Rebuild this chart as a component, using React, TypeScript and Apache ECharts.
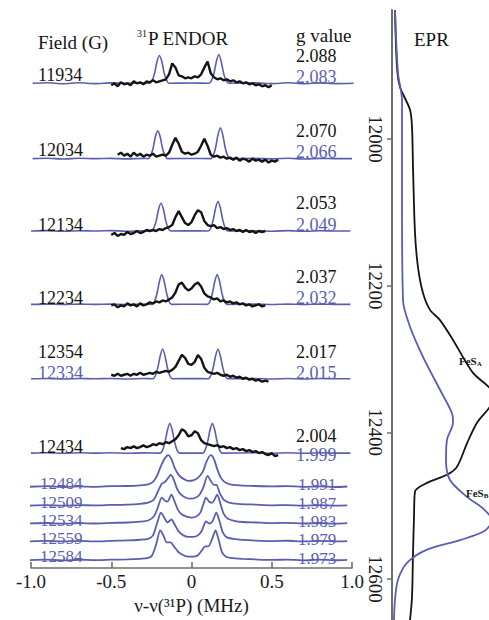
import React, { useEffect, useRef } from 'react';
import * as echarts from 'echarts';

// ---------------- DATA ----------------
// ENDOR: experimental (black) field labels and g values, simulation (blue) g values
const expFields = ['11934', '12034', '12134', '12234', '12354', '12434'];
const simFieldRow5 = '12334';
const expG = ['2.088', '2.070', '2.053', '2.037', '2.017', '2.004'];
const simG = ['2.083', '2.066', '2.049', '2.032', '2.015', '1.999'];
const lowFields = ['12484', '12509', '12534', '12559', '12584'];
const lowG = ['1.991', '1.987', '1.983', '1.979', '1.973'];
const xTicks = [-1, -0.5, 0, 0.5, 1];
const eprTicks = [12000, 12200, 12400, 12600];

// Simulated (blue) ENDOR spectra, [nu - nu(31P) MHz, intensity]
const sim11934 = [[-0.99,0],[-0.9,0.6],[-0.8,-0.4],[-0.7,0.5],[-0.6,-0.3],[-0.5,0.4],[-0.4,0],[-0.3,0.3],[-0.26,0],[-0.245,3],[-0.23,10],[-0.215,22],[-0.2,28],[-0.185,22],[-0.17,10],[-0.155,3],[-0.14,0],[0,0.3],[0.11,0],[0.125,3],[0.14,10],[0.155,22],[0.17,29],[0.185,22],[0.2,10],[0.215,3],[0.23,0],[0.4,0.4],[0.5,-0.3],[0.6,0.5],[0.7,-0.4],[0.8,0.4],[0.9,-0.3],[1.01,0]];
const sim12034 = [[-0.99,0],[-0.9,0.4],[-0.8,-0.3],[-0.7,0.4],[-0.6,0],[-0.5,0.3],[-0.4,-0.2],[-0.3,0.2],[-0.27,0],[-0.255,3],[-0.24,10],[-0.225,22],[-0.21,28],[-0.195,22],[-0.18,10],[-0.165,3],[-0.15,0],[0,0.2],[0.12,0],[0.135,3],[0.15,11],[0.165,24],[0.18,31],[0.195,24],[0.21,11],[0.225,3],[0.24,0],[0.4,0.3],[0.5,-0.2],[0.6,0.4],[0.7,-0.3],[0.8,0.3],[0.9,0],[1.0,0]];
const sim12134 = [[-1.0,0],[-0.9,0.4],[-0.8,-0.3],[-0.7,0.3],[-0.6,0],[-0.5,0.4],[-0.4,-0.2],[-0.3,0.2],[-0.25,0],[-0.235,3],[-0.22,10],[-0.205,22],[-0.19,28],[-0.175,22],[-0.16,10],[-0.145,3],[-0.13,0],[0,0.2],[0.105,0],[0.12,3],[0.135,11],[0.15,23],[0.165,30],[0.18,23],[0.195,11],[0.21,3],[0.225,0],[0.4,0.3],[0.5,-0.2],[0.6,0.4],[0.7,-0.3],[0.8,0.3],[0.9,0],[0.99,0]];
const sim12234 = [[-1.0,0],[-0.9,0.3],[-0.8,-0.2],[-0.7,0.3],[-0.6,0],[-0.5,0.3],[-0.4,-0.2],[-0.3,0.2],[-0.245,0],[-0.23,3],[-0.215,11],[-0.2,23],[-0.185,30],[-0.17,23],[-0.155,11],[-0.14,3],[-0.125,0],[0,0.2],[0.1,0],[0.115,3],[0.13,11],[0.145,23],[0.16,30],[0.175,23],[0.19,11],[0.205,3],[0.22,0],[0.4,0.3],[0.5,-0.2],[0.6,0.3],[0.7,-0.2],[0.8,0.3],[0.9,0],[0.99,0]];
const sim12334 = [[-1.0,0],[-0.9,0.3],[-0.8,-0.2],[-0.7,0.3],[-0.6,0],[-0.5,0.3],[-0.4,-0.2],[-0.3,0.2],[-0.24,0],[-0.225,3],[-0.21,11],[-0.195,23],[-0.18,30],[-0.165,23],[-0.15,11],[-0.135,3],[-0.12,0],[0,0.2],[0.105,0],[0.12,3],[0.135,11],[0.15,23],[0.165,30],[0.18,23],[0.195,11],[0.21,3],[0.225,0],[0.4,0.3],[0.5,-0.2],[0.6,0.3],[0.7,-0.2],[0.8,0.3],[0.9,0],[0.99,0]];
const sim12434 = [[-1.0,0],[-0.9,0.3],[-0.8,-0.2],[-0.7,0.3],[-0.6,0],[-0.5,0.3],[-0.4,-0.2],[-0.3,0.2],[-0.195,0],[-0.18,3],[-0.165,11],[-0.15,23],[-0.135,30],[-0.12,23],[-0.105,11],[-0.09,3],[-0.075,0],[0,0],[0.07,0],[0.085,3],[0.1,11],[0.115,23],[0.13,30],[0.145,23],[0.16,11],[0.175,3],[0.19,0],[0.4,0.3],[0.5,-0.2],[0.6,0.3],[0.7,-0.2],[0.8,0.3],[0.9,0],[0.99,0]];
const simUpper = [sim11934, sim12034, sim12134, sim12234, sim12334, sim12434];

// Experimental (black) ENDOR spectra: start frequency (MHz), step 0.02 MHz, intensities
const expStart = [-0.5, -0.46, -0.5, -0.5, -0.5, -0.44];
const exp11934 = [-2,0,-3,1,-1,0,-2,2,0,1,-1,2,1,3,1,2,3,4,9,20,16,8,7,5,6,5,7,6,9,16,22,10,6,4,5,3,4,2,3,1,2,0,1,-1,0,-2,-1,-3,-2,-4,-2];
const exp12034 = [4,6,3,5,2,6,3,5,2,4,3,5,2,3,4,3,6,14,21,15,7,5,6,4,5,7,13,20,13,4,2,3,1,2,0,1,-1,1,-2,0,-1,-3,0,-2,-1,-3,-1,-4,-2,-3,-1];
const exp12134 = [-4,-2,-5,-3,-4,-1,-3,-2,0,-2,-1,1,0,1,0,2,1,3,4,6,14,20,14,8,6,9,16,21,19,10,6,5,6,3,4,2,3,1,2,0,1,-1,1,-1,0,-2,0,-1,0];
const exp12234 = [-1,0,-3,-1,-2,1,-1,0,-2,1,-1,0,2,1,3,2,4,3,5,7,12,20,22,17,14,16,20,22,18,11,8,7,5,6,3,4,2,3,1,2,0,1,-1,0,-2,-1,0,-2,-1];
const exp12354 = [4,3,5,3,4,5,3,5,4,6,4,5,6,5,7,6,7,8,7,9,12,18,24,21,15,14,17,24,20,11,7,6,5,6,4,3,4,2,3,1,2,0,1,-1,0,-2,-1,-3,-2,-3];
const exp12434 = [5,4,6,5,7,5,6,8,6,7,9,8,10,9,11,10,12,14,18,24,22,17,18,22,20,13,10,9,8,7,8,6,7,5,6,4,5,3,4,2,3,1,2,0,1,-1,-2,0,-3,-2];
const expUpper = [exp11934, exp12034, exp12134, exp12234, exp12354, exp12434];

// Simulated (blue) ENDOR spectra at low g
const sim12484 = [[-1.01,0],[-0.9,0.6],[-0.8,-0.2],[-0.7,0.5],[-0.6,0],[-0.5,0.6],[-0.4,0.8],[-0.32,1.5],[-0.27,2.5],[-0.24,5],[-0.215,11],[-0.19,21],[-0.165,29],[-0.145,32],[-0.125,28],[-0.105,19],[-0.08,12],[-0.05,8],[-0.02,6],[0.01,6.5],[0.04,9],[0.07,15],[0.095,26],[0.12,32],[0.14,28],[0.16,18],[0.18,10],[0.205,5],[0.24,2.5],[0.3,1.5],[0.4,0.8],[0.5,0.4],[0.6,0.7],[0.7,0],[0.8,0.5],[0.9,-0.2],[0.97,0.3]];
const sim12509 = [[-1.01,0],[-0.9,0.5],[-0.8,0],[-0.7,0.6],[-0.6,0.2],[-0.5,0.7],[-0.4,1],[-0.32,1.8],[-0.27,3],[-0.235,6],[-0.21,14],[-0.185,22],[-0.165,24],[-0.145,28],[-0.13,31],[-0.11,26],[-0.09,17],[-0.065,11],[-0.035,8],[-0.005,7],[0.025,8],[0.05,11],[0.075,19],[0.1,30],[0.12,25],[0.14,21],[0.155,21],[0.175,13],[0.2,6],[0.235,3],[0.29,1.8],[0.4,1],[0.5,0.3],[0.6,0.6],[0.7,0],[0.8,0.5],[0.9,0],[0.97,0.2]];
const sim12534 = [[-1.01,0],[-0.9,0.5],[-0.8,-0.2],[-0.7,0.4],[-0.6,0],[-0.5,0.6],[-0.4,1],[-0.32,1.8],[-0.27,3],[-0.235,7],[-0.21,16],[-0.185,26],[-0.165,23],[-0.15,22],[-0.125,29],[-0.105,22],[-0.085,14],[-0.06,9],[-0.03,7],[0,6],[0.03,7],[0.055,11],[0.075,20],[0.09,26],[0.11,22],[0.13,21],[0.16,29],[0.18,20],[0.2,10],[0.225,5],[0.26,3],[0.32,1.5],[0.4,1],[0.5,0.4],[0.6,0.7],[0.7,0],[0.8,0.5],[0.9,-0.2],[0.97,0.3]];
const sim12559 = [[-1.01,0],[-0.9,0.4],[-0.8,0],[-0.7,0.5],[-0.6,-0.1],[-0.5,0.5],[-0.4,0.9],[-0.32,1.6],[-0.27,2.5],[-0.24,6],[-0.215,18],[-0.19,29],[-0.17,24],[-0.15,19],[-0.125,22],[-0.105,17],[-0.08,10],[-0.05,6],[-0.02,4.5],[0.01,4.5],[0.04,6],[0.065,11],[0.09,20],[0.11,18],[0.13,20],[0.155,29],[0.175,20],[0.195,9],[0.22,4],[0.26,2.5],[0.32,1.5],[0.4,0.8],[0.5,0.3],[0.6,0.6],[0.7,-0.1],[0.8,0.5],[0.9,0],[0.97,0.3]];
const sim12584 = [[-1.01,0],[-0.9,0.5],[-0.8,-0.2],[-0.7,0.4],[-0.6,0],[-0.5,0.5],[-0.4,0.8],[-0.32,1.4],[-0.27,2.2],[-0.245,5],[-0.22,16],[-0.195,30],[-0.175,25],[-0.155,18],[-0.13,18],[-0.11,14],[-0.08,8],[-0.05,5],[-0.02,3.5],[0.01,3.5],[0.04,5],[0.065,10],[0.085,14],[0.105,14],[0.13,22],[0.15,30],[0.17,20],[0.19,8],[0.215,3.5],[0.26,2],[0.32,1.3],[0.4,0.7],[0.5,0.2],[0.6,0.6],[0.7,-0.2],[0.8,0.5],[0.9,-0.1],[0.97,0.3]];
const simLower = [sim12484, sim12509, sim12534, sim12559, sim12584];

// EPR absorption spectra: [intensity, field (G)]
const eprExp = [[3,11824],[5,11902],[8,11929],[18,11960],[20,11984],[21,12038],[23,12128],[26,12175],[31,12210],[38,12233],[48,12247],[61,12274],[81,12319],[98,12340],[101,12352],[98,12365],[85,12387],[75,12415],[65,12447],[55,12458],[35,12469],[23,12481],[22,12515],[21,12565],[20,12625],[18,12656]];
const eprSim = [[3,11824],[6,11910],[10,11947],[10,12083],[11,12220],[18,12256],[31,12297],[48,12342],[60,12374],[61,12387],[55,12410],[54,12438],[58,12465],[75,12488],[92,12505],[100,12520],[92,12535],[68,12547],[35,12560],[15,12578],[6,12601],[3,12628],[2,12656]];

// ---------------- LAYOUT / STYLE ----------------
const FONT = "'Liberation Serif','Times New Roman',serif";
const BLUE = '#5a5eb0';
const BLACK = '#141414';
const AXIS = '#6e6e6e';
const W = 489, H = 620;
const AXIS_Y = 573; // pixel row of the ENDOR x axis
const upperBase = [84, 160, 233, 307, 382, 457];
const lowerBase = [491, 510, 528, 546, 565];
const expFieldY = [75, 150, 225, 298, 352, 447];
const expGY = [56, 131, 203, 277, 352, 436];
const simGY = [77, 152, 225, 298, 373, 455];
const lowFieldY = [483, 502, 520, 538, 556];
const lowGY = [484, 503, 521, 539, 558];

const txt = (text: string, x: number, y: number, fill: string, extra: any = {}) => ({
  type: 'text', x, y, silent: true, z: 10,
  style: {
    text, fill, fontSize: 18, fontFamily: FONT,
    align: 'left', verticalAlign: 'middle', textAlign: 'left', textVerticalAlign: 'middle',
    ...extra,
  },
});

function buildOption() {
  const series: any[] = [];
  simUpper.forEach((d, i) => {
    const off = AXIS_Y - upperBase[i];
    series.push({
      type: 'line', xAxisIndex: 0, yAxisIndex: 0, showSymbol: false, smooth: 0.25,
      lineStyle: { color: BLUE, width: 1.6 }, z: 2,
      data: d.map(([x, v]) => [x, off + v]),
    });
  });
  expUpper.forEach((d, i) => {
    const off = AXIS_Y - upperBase[i];
    series.push({
      type: 'line', xAxisIndex: 0, yAxisIndex: 0, showSymbol: false,
      lineStyle: { color: BLACK, width: 2.4 }, z: 3,
      data: d.map((v, j) => [expStart[i] + j * 0.02, off + v]),
    });
  });
  simLower.forEach((d, i) => {
    const off = AXIS_Y - lowerBase[i];
    series.push({
      type: 'line', xAxisIndex: 0, yAxisIndex: 0, showSymbol: false, smooth: 0.25,
      lineStyle: { color: BLUE, width: 1.8 }, z: 2,
      data: d.map(([x, v]) => [x, off + v]),
    });
  });
  series.push({
    type: 'line', xAxisIndex: 1, yAxisIndex: 1, showSymbol: false, smooth: 0.3,
    lineStyle: { color: BLACK, width: 1.8 }, data: eprExp,
  });
  series.push({
    type: 'line', xAxisIndex: 1, yAxisIndex: 1, showSymbol: false, smooth: 0.3,
    lineStyle: { color: BLUE, width: 1.8 }, data: eprSim,
  });

  const graphics: any[] = [];
  graphics.push(txt('Field (G)', 38, 42, BLACK, { fontSize: 19 }));
  graphics.push(txt('{s|31}P ENDOR', 137, 38, BLACK, {
    fontSize: 19,
    rich: { s: { fontSize: 10, fontFamily: FONT, fill: BLACK, verticalAlign: 'top', padding: [0, 1, 8, 0] } },
  }));
  graphics.push(txt('g value', 296, 35, BLACK, { fontSize: 19 }));
  graphics.push(txt('EPR', 414, 39, BLACK, { fontSize: 19 }));
  expFields.forEach((f, i) => graphics.push(txt(f, 38, expFieldY[i], BLACK)));
  graphics.push(txt(simFieldRow5, 38, 373, BLUE));
  expG.forEach((g, i) => graphics.push(txt(g, 296, expGY[i], BLACK)));
  simG.forEach((g, i) => graphics.push(txt(g, 296, simGY[i], BLUE)));
  lowFields.forEach((f, i) => graphics.push(txt(f, 40, lowFieldY[i], BLUE, { fontSize: 17, lineHeight: 16 })));
  lowG.forEach((g, i) => graphics.push(txt(g, 298, lowGY[i], BLUE, { fontSize: 17, lineHeight: 16 })));
  graphics.push(txt('FeS{b|A}', 459, 361, BLACK, {
    fontSize: 11, fontWeight: 'bold',
    rich: { b: { fontSize: 7, fontWeight: 'bold', fontFamily: FONT, fill: BLACK, verticalAlign: 'bottom', padding: [6, 0, 0, 0] } },
  }));
  graphics.push(txt('FeS{b|B}', 466, 493, BLACK, {
    fontSize: 11, fontWeight: 'bold',
    rich: { b: { fontSize: 7, fontWeight: 'bold', fontFamily: FONT, fill: BLACK, verticalAlign: 'bottom', padding: [6, 0, 0, 0] } },
  }));

  return {
    animation: false,
    backgroundColor: '#ffffff',
    grid: [
      { left: 31, right: W - 352, top: 0, bottom: H - AXIS_Y },
      { left: 392, right: 0, top: 10, bottom: 0 },
    ],
    xAxis: [
      {
        gridIndex: 0, type: 'value', min: -1, max: 1, interval: 0.5,
        axisLine: { lineStyle: { color: AXIS, width: 1.6 } },
        axisTick: { inside: true, length: 6, lineStyle: { color: AXIS, width: 1.6 } },
        axisLabel: {
          margin: 4, color: '#1a1a1a', fontSize: 19, fontFamily: FONT,
          customValues: xTicks,
          formatter: (v: number) => (v === 0 ? '0' : v.toFixed(1)),
        },
        splitLine: { show: false },
        name: 'ν-ν(³¹P) (MHz)', nameLocation: 'middle', nameGap: 27,
        nameTextStyle: { color: '#1a1a1a', fontSize: 19, fontFamily: FONT },
      },
      { gridIndex: 1, type: 'value', min: 0, max: 97, show: false },
    ],
    yAxis: [
      { gridIndex: 0, type: 'value', min: 0, max: AXIS_Y, show: false },
      {
        gridIndex: 1, type: 'value', inverse: true, min: 11824, max: 12656,
        axisLine: { show: true, lineStyle: { color: AXIS, width: 2 } },
        axisTick: { show: true, length: 5, customValues: eprTicks, lineStyle: { color: AXIS, width: 1.5 } },
        axisLabel: {
          rotate: -90, margin: 7, color: '#1a1a1a', fontSize: 19, fontFamily: FONT,
          customValues: eprTicks,
          formatter: (v: number) => String(v),
        },
        splitLine: { show: false },
      },
    ],
    series,
    graphic: { elements: graphics },
  };
}

export default function App() {
  const ref = useRef<HTMLDivElement>(null);
  useEffect(() => {
    const chart = echarts.init(ref.current!, null, { renderer: 'svg' });
    chart.setOption(buildOption() as any);
    return () => chart.dispose();
  }, []);
  return (
    <div
      ref={ref}
      style={{ position: 'absolute', left: 0, top: 0, width: W, height: H, background: '#fff' }}
    />
  );
}
